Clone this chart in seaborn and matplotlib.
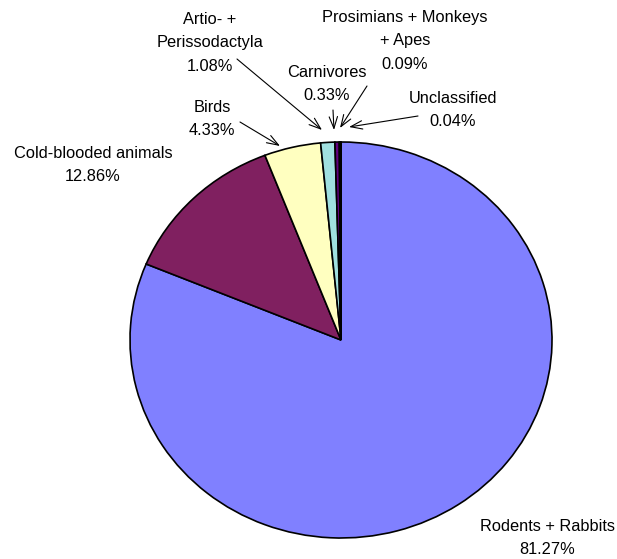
import matplotlib
matplotlib.use("Agg")
import matplotlib.pyplot as plt
import seaborn as sns

# ─── Data ────────────────────────────────────────────────────────────────────

categories = [
    "Rodents + Rabbits",
    "Cold-blooded animals",
    "Birds",
    "Artio- +\nPerissodactyla",
    "Carnivores",
    "Prosimians + Monkeys\n+ Apes",
    "Unclassified",
]
shares = [81.27, 12.86, 4.33, 1.08, 0.33, 0.09, 0.04]
colors = ["#8080FF", "#802060", "#FFFFC0", "#A0E0E0", "#600080", "#FF8080", "#0080C0"]

# label layout in figure pixels: (text centre, arrow tip or None)
W, H = 617, 559
CX, CY, RX, RY = 341, 340, 211, 198
label_layout = [
    ((547, 538), None),
    ((93, 165), None),
    ((212, 119), (280, 146)),
    ((210, 43), (322, 130)),
    ((327, 84), (334, 130)),
    ((405, 41), (340, 128)),
    ((453, 110), (349, 127)),
]
arrow_starts = [None, None, (240, 122), (237, 59), (333, 110), (367, 86), (418, 116)]


def px(x, y):
    """Convert picture pixels to pie data coordinates."""
    return (x - CX) / RX, (CY - y) / RY


sns.set_theme(style="white")
plt.rcParams["font.family"] = ["Liberation Sans", "DejaVu Sans"]

fig = plt.figure(figsize=(W / 100, H / 100), dpi=100)
ax = fig.add_axes([0, 0, 1, 1])

ax.pie(shares, colors=colors, startangle=90, counterclock=False, radius=1,
       wedgeprops={"edgecolor": "black", "linewidth": 1.2})
ax.set_aspect("auto")
ax.set_xlim(px(0, 0)[0], px(W, 0)[0])
ax.set_ylim(px(0, H)[1], px(0, 0)[1])
ax.axis("off")

for name, val, (txt, tip), start in zip(categories, shares, label_layout, arrow_starts):
    tx, ty = px(*txt)
    ax.text(tx, ty, "{}\n{:.2f}%".format(name, val), ha="center", va="center",
            fontsize=11.8, linespacing=1.68, color="black")
    if tip is not None:
        ax.annotate("", xy=px(*tip), xytext=px(*start),
                    arrowprops=dict(arrowstyle="->,head_length=0.7,head_width=0.25",
                                    color="black", lw=0.8, shrinkA=0, shrinkB=0))

fig.savefig("out.png", dpi=100)
plt.close(fig)
